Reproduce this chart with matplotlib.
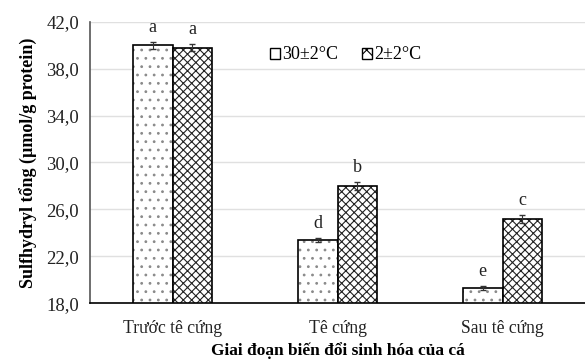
import matplotlib.pyplot as plt
from matplotlib.patches import Patch
import numpy as np

plt.rcParams['font.family'] = ['Liberation Serif', 'DejaVu Serif']
plt.rcParams['hatch.linewidth'] = 0.8

stages = ['Trước tê cứng', 'Tê cứng', 'Sau tê cứng']
temps = ['30±2°C', '2±2°C']
val_30 = [40.0, 23.4, 19.3]
val_2 = [39.8, 28.0, 25.2]
err_30 = [0.3, 0.15, 0.2]
err_2 = [0.3, 0.35, 0.35]
lab_30 = ['a', 'd', 'e']
lab_2 = ['a', 'b', 'c']

x = np.arange(len(stages))
w = 0.24

fig = plt.figure(figsize=(5.85, 3.63), dpi=100)
ax = fig.add_axes([0.154, 0.165, 0.846, 0.775])

# dotted bars: light hatch, then black outline on top
ax.bar(x - w/2, val_30, w, color='white', edgecolor='#8a8a8a', hatch='..',
       linewidth=0, zorder=2)
ax.bar(x - w/2, val_30, w, fill=False, edgecolor='black', linewidth=1.2, zorder=2)
ax.bar(x + w/2, val_2, w, color='white', edgecolor='#222222', hatch='xxxx',
       linewidth=0, zorder=2)
ax.bar(x + w/2, val_2, w, fill=False, edgecolor='black', linewidth=1.2, zorder=2)
ax.errorbar(x - w/2, val_30, yerr=err_30, fmt='none', ecolor='#333333',
            elinewidth=0.8, capsize=2.5, zorder=3)
ax.errorbar(x + w/2, val_2, yerr=err_2, fmt='none', ecolor='#333333',
            elinewidth=0.8, capsize=2.5, zorder=3)

for xi, v, e, t in zip(x - w/2, val_30, err_30, lab_30):
    ax.text(xi, v + e + 0.5, t, ha='center', va='bottom', fontsize=13, color='#222222')
for xi, v, e, t in zip(x + w/2, val_2, err_2, lab_2):
    ax.text(xi, v + e + 0.5, t, ha='center', va='bottom', fontsize=13, color='#222222')

ax.set_ylim(18, 42)
ax.set_xlim(-0.5, 2.5)
yt = np.arange(18, 43, 4)
ax.set_yticks(yt)
ax.set_yticklabels([f'{t:.1f}'.replace('.', ',') for t in yt], fontsize=13.5, color='#222222')
ax.set_xticks(x)
ax.set_xticklabels(stages, fontsize=12.7, color='#222222')
ax.tick_params(axis='y', length=0, pad=8)
ax.tick_params(axis='x', length=0, pad=12)
ax.grid(axis='y', color='#e0e0e0', linewidth=1.0, zorder=0)
ax.set_axisbelow(True)
for s in ['top', 'right']:
    ax.spines[s].set_visible(False)
ax.spines['left'].set_color('#555555')
ax.spines['left'].set_linewidth(1.2)
ax.spines['bottom'].set_color('black')
ax.spines['bottom'].set_linewidth(1.2)

ax.set_ylabel('Sulfhydryl tổng (µmol/g protein)', fontsize=13, fontweight='bold', labelpad=6)
ax.set_xlabel('Giai đoạn biến đổi sinh hóa của cá', fontsize=12.5, fontweight='bold', labelpad=4)

handles = [Patch(facecolor='white', edgecolor='black', hatch='', linewidth=1.0, label=temps[0]),
           Patch(facecolor='white', edgecolor='black', hatch='xx', linewidth=1.0, label=temps[1])]
ax.legend(handles=handles, loc='upper left', bbox_to_anchor=(0.33, 0.97), ncol=2,
          frameon=False, fontsize=13, handlelength=0.55, handleheight=0.55,
          handletextpad=0.15, columnspacing=1.3)

fig.savefig('out.png', dpi=100)
